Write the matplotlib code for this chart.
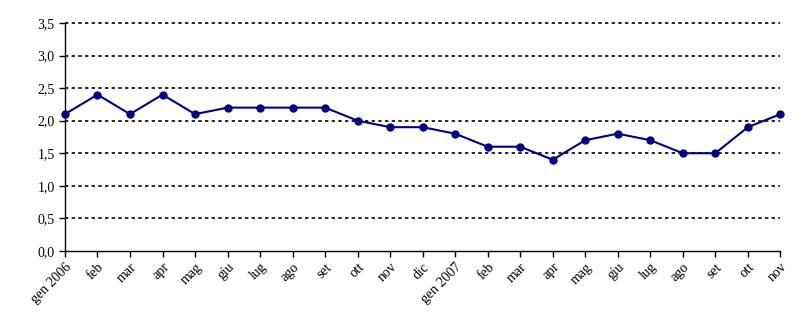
import matplotlib
matplotlib.use("Agg")
import matplotlib.pyplot as plt
from matplotlib.ticker import FuncFormatter

mesi = ["gen 2006", "feb", "mar", "apr", "mag", "giu", "lug", "ago", "set", "ott", "nov", "dic",
        "gen 2007", "feb", "mar", "apr", "mag", "giu", "lug", "ago", "set", "ott", "nov"]
valori = [2.1, 2.4, 2.1, 2.4, 2.1, 2.2, 2.2, 2.2, 2.2, 2.0, 1.9, 1.9,
          1.8, 1.6, 1.6, 1.4, 1.7, 1.8, 1.7, 1.5, 1.5, 1.9, 2.1]
y_ticks = [0, 0.5, 1.0, 1.5, 2.0, 2.5, 3.0, 3.5]

plt.rcParams['font.family'] = ['Liberation Serif', 'DejaVu Serif']

fig = plt.figure(figsize=(8.02, 3.28), dpi=100)
ax = fig.add_axes([0.081, 0.235, 0.892, 0.695])

x = list(range(len(mesi)))
ax.plot(x, valori, color="#000080", linewidth=1.5, marker="o", markersize=5, zorder=3, clip_on=False)

ax.set_xlim(0, len(mesi) - 1)
ax.set_ylim(0, 3.5)
ax.set_yticks(y_ticks)
ax.yaxis.set_major_formatter(FuncFormatter(lambda v, p: f"{v:.1f}".replace(".", ",")))
ax.set_xticks(x)
ax.set_xticklabels(mesi, rotation=45, ha="right", rotation_mode="anchor")

for yv in y_ticks[1:]:
    ax.axhline(yv, color="black", linestyle=(0, (2, 2)), linewidth=1.2, zorder=1, clip_on=False)

for s in ["top", "right"]:
    ax.spines[s].set_visible(False)
ax.spines["left"].set_linewidth(1)
ax.spines["bottom"].set_linewidth(1)
ax.tick_params(axis="both", labelsize=10, direction="out", length=4, width=1)
ax.tick_params(axis="x", pad=3)

fig.savefig("out.png", dpi=100)
